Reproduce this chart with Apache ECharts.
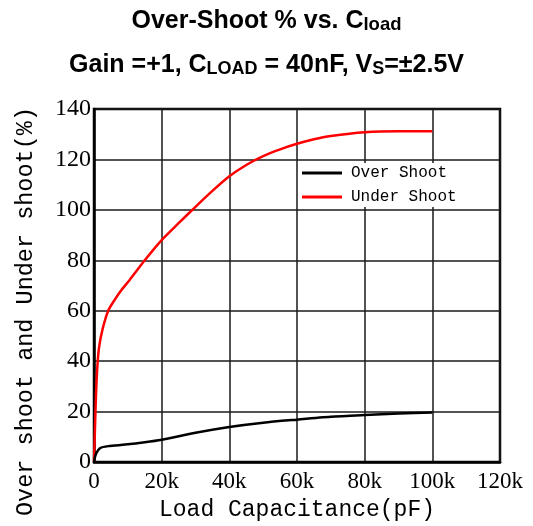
<!DOCTYPE html>
<html>
<head>
<meta charset="utf-8">
<script src="https://cdn.jsdelivr.net/npm/echarts@6/dist/echarts.min.js"></script>
<style>html,body{margin:0;padding:0;background:#fff}#c{width:533px;height:526px}</style>
</head>
<body>
<div id="c"></div>
<script>
// Data (x in pF, y in %)
const overX = [0, 300, 800, 1800, 4200, 9200, 15000, 20000, 30000, 40000, 50000, 60000, 70000, 80000, 90000, 100000];
const overY = [0, 2, 3.8, 5.5, 6.3, 6.9, 7.8, 8.8, 11.6, 13.9, 15.6, 16.8, 17.9, 18.6, 19.2, 19.6];
const underX = [0, 300, 600, 1000, 1500, 2500, 4200, 6200, 8000, 10600, 15000, 20000, 25000, 30000, 35000, 40000, 45000, 50000, 55000, 60000, 65000, 70000, 80000, 90000, 100000];
const underY = [0, 14, 27, 38, 45.5, 52.5, 60, 64.5, 68, 72.3, 80, 88, 94.7, 101.2, 107.5, 113.3, 117.8, 121.3, 124, 126.2, 128, 129.3, 130.8, 131.2, 131.2];
const xTickLabels = ['0', '20k', '40k', '60k', '80k', '100k', '120k'];
const yTickLabels = ['0', '20', '40', '60', '80', '100', '120', '140'];
const seriesNames = ['Over Shoot', 'Under Shoot'];

const zip = (xs, ys) => xs.map((x, i) => [x, ys[i]]);
const chart = echarts.init(document.getElementById('c'), null, {renderer: 'canvas'});
const tf = 'Liberation Sans, Arial, sans-serif';
chart.setOption({
  animation: false,
  backgroundColor: '#fff',
  title: [
    {
      text: '{m|Over-Shoot % vs. C}{s|load}',
      left: 'center', top: 4, padding: 0,
      textStyle: {
        rich: {
          m: {fontFamily: tf, fontWeight: 'bold', fontSize: 25, lineHeight: 30, color: '#000', verticalAlign: 'bottom'},
          s: {fontFamily: tf, fontWeight: 'bold', fontSize: 18.5, lineHeight: 21, color: '#000', verticalAlign: 'bottom'}
        }
      }
    },
    {
      text: '{m|Gain =+1, C}{s|LOAD}{m| = 40nF, V}{s|S}{m|=±2.5V}',
      left: 'center', top: 48, padding: 0,
      textStyle: {
        rich: {
          m: {fontFamily: tf, fontWeight: 'bold', fontSize: 25, lineHeight: 30, color: '#000', verticalAlign: 'bottom'},
          s: {fontFamily: tf, fontWeight: 'bold', fontSize: 18, lineHeight: 24, color: '#000', verticalAlign: 'bottom'}
        }
      }
    }
  ],
  legend: {
    data: seriesNames.map(n => ({name: n, icon: 'rect'})),
    orient: 'vertical',
    left: 298, top: 163,
    padding: [2, 2, 2, 4],
    backgroundColor: '#fff',
    itemWidth: 40, itemHeight: 3, itemGap: 8,
    textStyle: {fontFamily: 'Liberation Mono, monospace', fontSize: 16, color: '#000', lineHeight: 14, padding: [0, 0, 0, 4]}
  },
  grid: {left: 94, right: 33, top: 109, bottom: 63, show: true, borderColor: '#000', borderWidth: 2.5, backgroundColor: '#fff'},
  xAxis: {
    type: 'value', min: 0, max: 120000, interval: 20000,
    name: 'Load Capacitance(pF)', nameLocation: 'middle', nameGap: 36,
    nameTextStyle: {fontFamily: 'Liberation Mono, monospace', fontSize: 23, color: '#000'},
    axisLine: {show: true, lineStyle: {color: '#000', width: 2.5}},
    axisTick: {show: false},
    splitLine: {show: true, lineStyle: {color: '#1a1a1a', width: 1.5}},
    axisLabel: {margin: 8, fontFamily: 'Liberation Serif, serif', fontSize: 23, color: '#000',
      formatter: v => xTickLabels[Math.round(v / 20000)]}
  },
  yAxis: {
    type: 'value', min: 0, max: 140, interval: 20,
    name: 'Over shoot and Under shoot(%)', nameLocation: 'middle', nameGap: 56,
    nameTextStyle: {fontFamily: 'Liberation Mono, monospace', fontSize: 23.5, color: '#000', padding: [0, 52, 0, 0]},
    axisLine: {show: true, lineStyle: {color: '#000', width: 2.5}},
    axisTick: {show: false},
    splitLine: {show: true, lineStyle: {color: '#1a1a1a', width: 1.5}},
    axisLabel: {margin: 3, fontFamily: 'Liberation Serif, serif', fontSize: 24, color: '#000',
      formatter: v => yTickLabels[Math.round(v / 20)]}
  },
  series: [
    {name: seriesNames[0], type: 'line', data: zip(overX, overY), symbol: 'none', showSymbol: false,
      smooth: 0.25, lineStyle: {color: '#000', width: 2.5}, itemStyle: {color: '#000'}, z: 3},
    {name: seriesNames[1], type: 'line', data: zip(underX, underY), symbol: 'none', showSymbol: false,
      smooth: 0.25, lineStyle: {color: '#ff0000', width: 2.5}, itemStyle: {color: '#ff0000'}, z: 2}
  ]
});
</script>
</body>
</html>
